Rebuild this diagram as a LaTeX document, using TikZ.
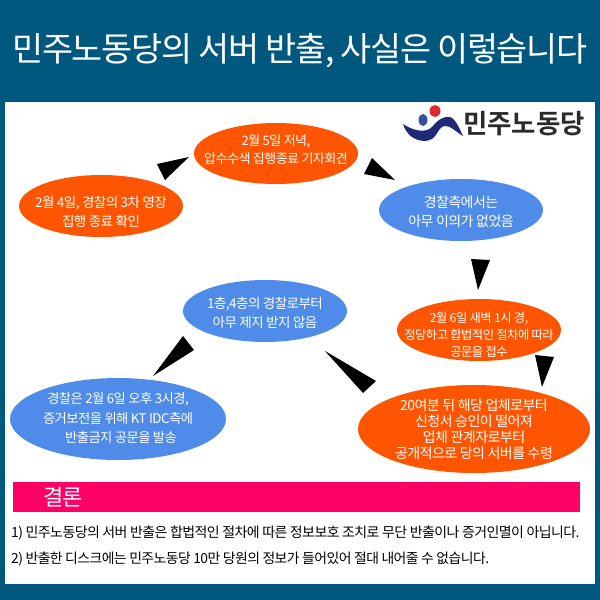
\documentclass[tikz,border=0pt]{standalone}
\usepackage{fontspec}
\newfontfamily\kr[LetterSpace=-4]{Noto Sans CJK KR}
\newfontfamily\krlogo[LetterSpace=0]{Noto Sans CJK KR Bold}
\definecolor{pagebg}{HTML}{00587F}
\definecolor{orangefill}{HTML}{FF5500}
\definecolor{bluefill}{HTML}{4F8BE8}
\definecolor{pinkbar}{HTML}{FF0066}
\definecolor{logonavy}{HTML}{1E2A78}
\definecolor{logoblue}{HTML}{3A4DA0}
\definecolor{logored}{HTML}{E0282E}
\definecolor{logotext}{HTML}{2B2B2B}
\newcommand{\lbl}[2]{\fontsize{#1}{#2}\selectfont\kr}
\tikzset{
  bub/.style={inner sep=0pt,text=white,align=center},
  wedge/.style={fill=black},
  plainline/.style={anchor=west,inner sep=0pt,text=black}
}
\begin{document}
\begin{tikzpicture}[x=1pt,y=-1pt]
\useasboundingbox (0,0) rectangle (600,600);
\fill[pagebg] (0,0) rectangle (600,600);
\fill[white] (5,102) rectangle (595,584);
% title
\node[text=white,inner sep=0pt] (title) at (300,51) {\fontsize{33.8}{40}\selectfont\kr 민주노동당의 서버 반출, 사실은 이렇습니다};
% logo
\fill[logonavy] (403,124) .. controls (412,130) and (425,134) .. (432,127)
  .. controls (438,120) and (443,116) .. (450,117) .. controls (456,119) and (460,130) .. (463,136)
  .. controls (456,132) and (450,125) .. (444,126) .. controls (436,129) and (438,140) .. (425,141)
  .. controls (414,141) and (406,134) .. (403,124) -- cycle;
\fill[logoblue] (423,120) ellipse [x radius=4.5,y radius=6];
\fill[logored] (435,111) ellipse [x radius=5.5,y radius=6];
\node[text=logotext,inner sep=0pt] (logotxt) at (524,124) {\fontsize{26.5}{28}\selectfont\krlogo 민주노동당};
% ellipses
\fill[orangefill] (276,153.5) ellipse [x radius=82,y radius=30.5];
\fill[orangefill] (101,206) ellipse [x radius=82,y radius=31];
\fill[bluefill] (461,210) ellipse [x radius=82,y radius=31];
\fill[orangefill] (479,330) ellipse [x radius=82,y radius=31];
\fill[orangefill] (474,429) ellipse [x radius=116,y radius=44];
\fill[bluefill] (265,311) ellipse [x radius=82,y radius=31];
\fill[bluefill] (118,419) ellipse [x radius=108,y radius=41];
\node[bub,font=\lbl{13}{18}] (n1) at (276,150) {2월 5일 저녁,\\압수수색 집행종료 기자회견};
\node[bub,font=\lbl{13.5}{19}] (n2) at (101,212) {2월 4일, 경찰의 3차 영장\\집행 종료 확인};
\node[bub,font=\lbl{14}{19}] (n3) at (461,212) {경찰측에서는\\아무 이의가 없었음};
\node[bub,font=\lbl{12.3}{17}] (n4) at (479,335) {2월 6일 새벽 1시 경,\\정당하고 합법적인 절차에 따라\\공문을 접수};
\node[bub,font=\lbl{14}{16}] (n5) at (474,429) {20여분 뒤 해당 업체로부터\\신청서 승인이 떨어져\\업체 관계자로부터\\공개적으로 당의 서버를 수령};
\node[bub,font=\lbl{13.5}{19}] (n6) at (265,313) {1층,4층의 경찰로부터\\아무 제지 받지 않음};
\node[bub,font=\lbl{13.3}{19.5}] (n7) at (118,418) {경찰은 2월 6일 오후 3시경,\\증거보전을 위해 KT IDC측에\\\hspace*{6pt}반출금지 공문을 발송};
% wedges
\fill[wedge] (189,157) -- (157,164) -- (165,180) -- cycle;
\fill[wedge] (395,180) -- (372,158) -- (364,174) -- cycle;
\fill[wedge] (478,290) -- (471,259) -- (490,260) -- cycle;
\fill[wedge] (542,387) -- (535,355) -- (554,357) -- cycle;
\fill[wedge] (325,351) -- (376,381) -- (363,393) -- cycle;
\fill[wedge] (153,376) -- (183,336) -- (194,350) -- cycle;
% conclusion
\fill[pinkbar] (13,482) rectangle (580,512);
\node[text=white,inner sep=0pt,anchor=west] (concl) at (43,497) {\fontsize{22}{24}\selectfont\kr 결론};
\node[plainline,font=\fontsize{13.95}{16}\selectfont\kr] (l1) at (11,533) {1) 민주노동당의 서버 반출은 합법적인 절차에 따른 정보보호 조치로 무단 반출이나 증거인멸이 아닙니다.};
\node[plainline,font=\fontsize{13.85}{16}\selectfont\kr] (l2) at (11,559) {2) 반출한 디스크에는 민주노동당 10만 당원의 정보가 들어있어 절대 내어줄 수 없습니다.};
\end{tikzpicture}
\end{document}
